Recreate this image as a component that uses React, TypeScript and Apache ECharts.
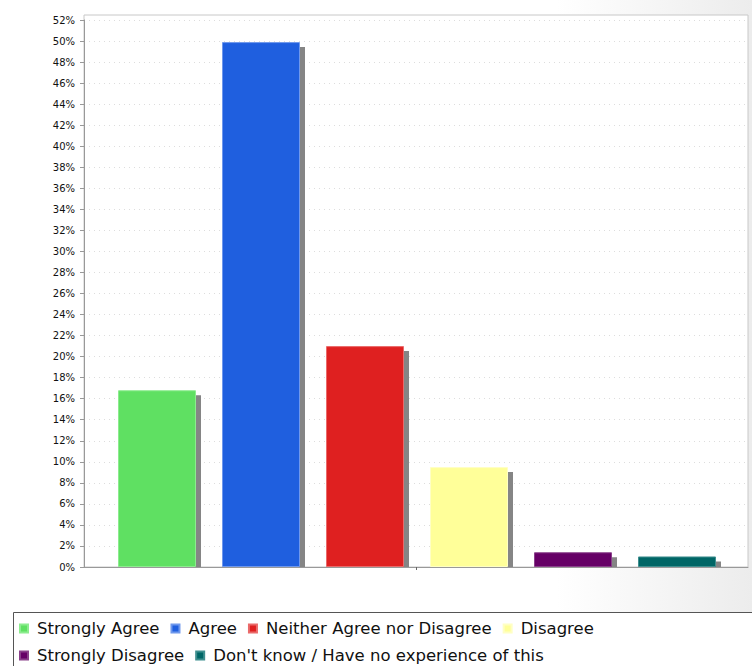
import React, { useEffect, useRef } from "react";
import * as echarts from "echarts";

const categories = [
  "Strongly Agree",
  "Agree",
  "Neither Agree nor Disagree",
  "Disagree",
  "Strongly Disagree",
  "Don't know / Have no experience of this",
];
const values = [16.8, 49.9, 21.0, 9.5, 1.4, 1.0];
const colors = ["#5fe062", "#1f5fdf", "#df2020", "#ffff99", "#660066", "#006666"];
const borderColors = ["#8cec8e", "#6f98ec", "#ea6a6a", "#ffffc4", "#8a408a", "#3f8f8f"];
const yMax = 52;
const yStep = 2;
const legendRow1 = categories.slice(0, 4);
const legendRow2 = categories.slice(4);

export default function App() {
  const ref = useRef<HTMLDivElement>(null);
  useEffect(() => {
    if (!ref.current) return;
    const chart = echarts.init(ref.current, null, { renderer: "svg" });
    const barSeries = categories.map((name, i) => ({
      name,
      type: "bar",
      xAxisIndex: 1,
      yAxisIndex: 1,
      barWidth: 78,
      barGap: "-100%",
      z: 5,
      data: categories.map((_, j) => (j === i ? values[i] : "-")),
      itemStyle: { color: colors[i], borderColor: borderColors[i], borderWidth: 1 },
    }));
    const legendBase = {
      left: 19,
      padding: 0,
      itemWidth: 8,
      itemHeight: 8,
      itemGap: 11,
      icon: "rect",
      selectedMode: false,
      textStyle: {
        fontFamily: "DejaVu Sans",
        fontSize: 16.5,
        color: "#111111",
        padding: [0, 0, 0, 4],
        lineHeight: 14,
      },
    };
    chart.setOption({
      animation: false,
      graphic: [
        {
          type: "rect",
          z: -10,
          shape: { x: 0, y: 0, width: 752, height: 612 },
          style: {
            fill: new echarts.graphic.LinearGradient(0, 0, 1, 0, [
              { offset: 0, color: "#ffffff" },
              { offset: 0.74, color: "#ffffff" },
              { offset: 1, color: "#ececec" },
            ]),
          },
        },
        {
          type: "rect",
          z: -9,
          shape: { x: 84, y: 15, width: 664, height: 552 },
          style: { fill: "#ffffff", stroke: "#c8c8c8", lineWidth: 1 },
        },
        {
          type: "rect",
          z: -9,
          shape: { x: 13.5, y: 612.5, width: 760, height: 80 },
          style: { fill: "#ffffff", stroke: "#555555", lineWidth: 1 },
        },
      ],
      legend: [
        { ...legendBase, top: 620, data: legendRow1 },
        { ...legendBase, top: 647, data: legendRow2 },
      ],
      grid: [
        { left: 84, right: 4, top: 20, bottom: 99 },
        { left: 105, right: 23, top: 20, bottom: 99 },
      ],
      xAxis: [
        {
          type: "category",
          gridIndex: 0,
          data: ["", "", ""],
          boundaryGap: false,
          axisLine: { lineStyle: { color: "#999999" } },
          axisTick: { interval: (i: number) => i === 1, length: 3, lineStyle: { color: "#666666" } },
          axisLabel: { show: false },
          splitLine: { show: false },
          z: 1,
        },
        {
          type: "category",
          gridIndex: 1,
          data: categories,
          show: false,
        },
      ],
      yAxis: [
        {
          type: "value",
          gridIndex: 0,
          min: 0,
          max: yMax,
          interval: yStep,
          axisLine: { show: true, lineStyle: { color: "#999999" } },
          axisTick: { show: true, length: 4, lineStyle: { color: "#999999" } },
          axisLabel: {
            formatter: "{value}%",
            fontFamily: "DejaVu Sans",
            fontSize: 10,
            color: "#111111",
            margin: 9,
          },
          splitLine: { show: true, lineStyle: { color: "#dddddd", type: [1, 4] } },
          z: 1,
        },
        {
          type: "value",
          gridIndex: 1,
          min: 0,
          max: yMax,
          interval: yStep,
          show: false,
          splitLine: { show: false },
        },
      ],
      series: [
        {
          type: "custom",
          name: "shadow",
          xAxisIndex: 1,
          yAxisIndex: 1,
          z: 4,
          silent: true,
          data: values.map((v, i) => [i, v]),
          encode: { x: 0, y: 1 },
          renderItem: (_p: any, api: any) => {
            const i = api.value(0);
            const v = api.value(1);
            const top = api.coord([i, v]);
            const base = api.coord([i, 0]);
            return {
              type: "rect",
              shape: {
                x: top[0] - 39 + 5,
                y: top[1] + 5,
                width: 78,
                height: Math.max(0, base[1] - top[1] - 5),
              },
              style: { fill: "#858585" },
            };
          },
        },
        ...barSeries,
      ],
    });
    return () => chart.dispose();
  }, []);
  return (
    <div
      ref={ref}
      style={{ position: "fixed", left: 0, top: 0, width: 752, height: 666, background: "#ffffff" }}
    />
  );
}
